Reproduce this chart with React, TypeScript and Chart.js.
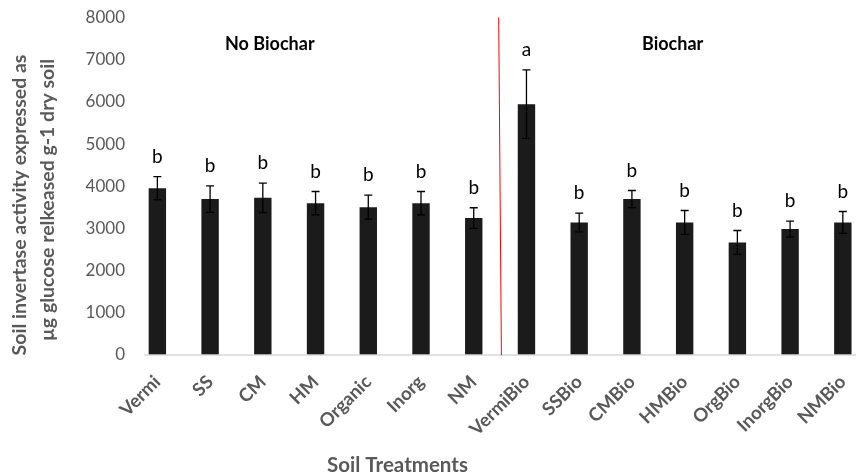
import React, { useEffect, useRef } from "react";
import { Chart, registerables } from "chart.js";

Chart.register(...registerables);

const categories = ["Vermi", "SS", "CM", "HM", "Organic", "Inorg", "NM", "VermiBio", "SSBio", "CMBio", "HMBio", "OrgBio", "InorgBio", "NMBio"];
const means = [3955, 3695, 3726, 3600, 3505, 3600, 3245, 5945, 3141, 3695, 3141, 2667, 2984, 3141];
const errors = [275, 315, 348, 275, 285, 275, 245, 812, 222, 204, 284, 284, 190, 260];
const letters = ["b", "b", "b", "b", "b", "b", "b", "a", "b", "b", "b", "b", "b", "b"];
const yTicks = [0, 1000, 2000, 3000, 4000, 5000, 6000, 7000, 8000];
const groupLabels = ["No Biochar", "Biochar"];
const yTitleLines = ["Soil invertase activity expressed as", "µg glucose relkeased g-1 dry soil"];
const xTitle = "Soil Treatments";

const FONT = "Lato, 'Open Sans', sans-serif";
const GRAY = "#595959";

const overlay = {
  id: "overlay",
  afterDatasetsDraw(chart: any) {
    const ctx = chart.ctx as CanvasRenderingContext2D;
    const xs = chart.scales.x;
    const ys = chart.scales.y;
    const meta = chart.getDatasetMeta(0);
    ctx.save();

    // baseline axis
    const step = xs.getPixelForValue(1) - xs.getPixelForValue(0);
    const base = ys.getPixelForValue(0);
    ctx.strokeStyle = "#d9d9d9";
    ctx.lineWidth = 1.5;
    ctx.beginPath();
    ctx.moveTo(xs.getPixelForValue(0) - step * 0.25, base);
    ctx.lineTo(chart.width, base);
    ctx.stroke();

    // error bars + letters
    meta.data.forEach((el: any, i: number) => {
      const cx = el.x;
      const t = ys.getPixelForValue(means[i] + errors[i]);
      const b = ys.getPixelForValue(means[i] - errors[i]);
      ctx.strokeStyle = "#000";
      ctx.lineWidth = 1.3;
      ctx.beginPath();
      ctx.moveTo(cx, t);
      ctx.lineTo(cx, b);
      ctx.moveTo(cx - 4, t);
      ctx.lineTo(cx + 4, t);
      ctx.moveTo(cx - 4, b);
      ctx.lineTo(cx + 4, b);
      ctx.stroke();
      ctx.fillStyle = "#000";
      ctx.font = `19px ${FONT}`;
      ctx.textAlign = "center";
      ctx.textBaseline = "middle";
      ctx.fillText(letters[i], cx, t - 20);
    });

    // red separator
    const mid = (xs.getPixelForValue(6) + xs.getPixelForValue(7)) / 2;
    ctx.strokeStyle = "#ff0000";
    ctx.lineWidth = 1;
    ctx.beginPath();
    ctx.moveTo(mid - 1.4, ys.getPixelForValue(8000));
    ctx.lineTo(mid + 1.3, base);
    ctx.stroke();

    // group labels
    ctx.fillStyle = "#000";
    ctx.font = `bold 18px ${FONT}`;
    ctx.textAlign = "center";
    ctx.textBaseline = "middle";
    ctx.fillText(groupLabels[0], xs.getPixelForValue(2) + 7, 44);
    ctx.fillText(groupLabels[1], xs.getPixelForValue(10) - 12, 44);

    // x title
    ctx.fillStyle = GRAY;
    ctx.font = `bold 20.5px ${FONT}`;
    ctx.fillText(xTitle, 397.5, 465);

    // y title
    ctx.font = `bold 19.5px ${FONT}`;
    ctx.save();
    ctx.translate(20, 205);
    ctx.rotate(-Math.PI / 2);
    ctx.fillText(yTitleLines[0], 0, 0);
    ctx.restore();
    ctx.save();
    ctx.translate(48, 200);
    ctx.rotate(-Math.PI / 2);
    ctx.fillText(yTitleLines[1], 0, 0);
    ctx.restore();

    ctx.restore();
  },
};

export default function App() {
  const ref = useRef<HTMLCanvasElement | null>(null);
  useEffect(() => {
    if (!ref.current) return;
    const chart = new Chart(ref.current, {
      type: "bar",
      data: {
        labels: categories,
        datasets: [
          {
            data: means,
            backgroundColor: "#1b1b1b",
            borderWidth: 0,
            categoryPercentage: 1,
            barPercentage: 0.33,
          },
        ],
      },
      options: {
        animation: false,
        responsive: false,
        maintainAspectRatio: false,
        layout: { padding: { top: 17.5, right: 10.8, left: 0, bottom: 0 } },
        plugins: { legend: { display: false }, tooltip: { enabled: false } },
        scales: {
          x: {
            grid: { display: false, drawTicks: false },
            border: { display: false },
            ticks: {
              autoSkip: false,
              maxRotation: 45,
              minRotation: 45,
              color: GRAY,
              padding: 16,
              font: { family: FONT, size: 18.5, weight: "bold" },
            },
            afterFit: (s: any) => {
              s.height = 117;
            },
          },
          y: {
            min: 0,
            max: 8000,
            grid: { display: false, drawTicks: false },
            border: { display: false },
            afterBuildTicks: (s: any) => {
              s.ticks = yTicks.map((v) => ({ value: v }));
            },
            ticks: {
              color: GRAY,
              padding: 6,
              font: { family: FONT, size: 17 },
              callback: (v: any) => String(v),
            },
            afterFit: (s: any) => {
              s.width = 131;
            },
          },
        },
      },
      plugins: [overlay],
    });
    return () => chart.destroy();
  }, []);
  return (
    <div style={{ position: "fixed", left: 0, top: 0, width: 856, height: 472, overflow: "hidden", background: "#fff" }}>
      <canvas ref={ref} width={880} height={472} style={{ width: 880, height: 472, display: "block" }} />
    </div>
  );
}
